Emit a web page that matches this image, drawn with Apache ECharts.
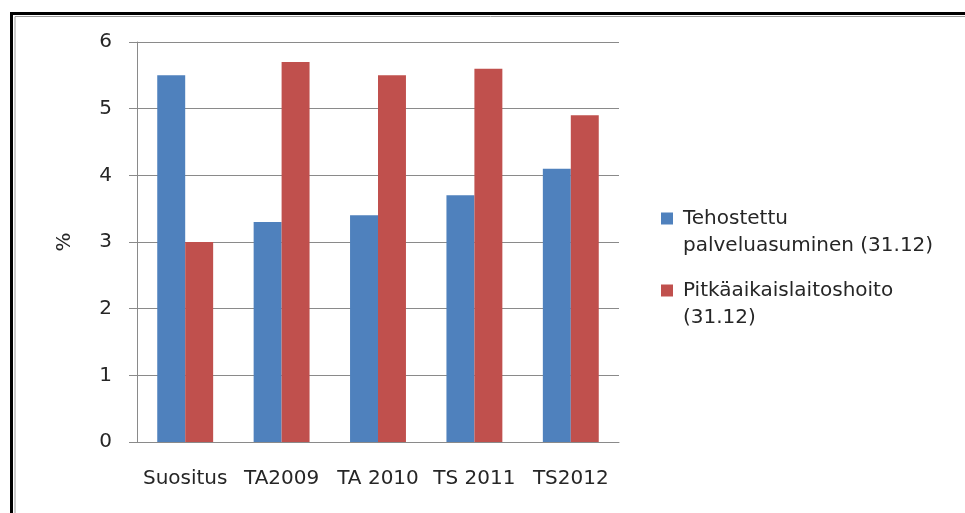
<!DOCTYPE html>
<html>
<head>
<meta charset="utf-8">
<style>
  html, body { margin: 0; padding: 0; background: #ffffff; }
  #main { width: 965px; height: 513px; }
</style>
</head>
<body>
<div id="main"></div>
<script src="https://cdn.jsdelivr.net/npm/echarts@6/dist/echarts.min.js"></script>
<script>
// data
var categories = ['Suositus', 'TA2009', 'TA 2010', 'TS 2011', 'TS2012'];
var tehostettu = [5.5, 3.3, 3.4, 3.7, 4.1];
var pitkaaikais = [3.0, 5.7, 5.5, 5.6, 4.9];
var seriesNames = ['Tehostettu\npalveluasuminen (31.12)', 'Pitkäaikaislaitoshoito\n(31.12)'];

var font = '"DejaVu Sans", sans-serif';
var fontSize = 20;
var textColor = '#262626';
var myChart = echarts.init(document.getElementById('main'));

// one legend per series so the icon sits next to the first text line
function legendFor(name, top) {
  return {
    data: [name],
    left: 661,
    top: top,
    padding: 0,
    orient: 'vertical',
    itemWidth: 12,
    itemHeight: 12,
    icon: 'rect',
    selectedMode: false,
    formatter: function (n) { return '\n' + n; },  // blank line keeps line 1 level with the icon
    textStyle: {
      fontFamily: font,
      fontSize: fontSize,
      color: textColor,
      lineHeight: 27,
      padding: [0, 0, 0, 5]
    }
  };
}

var option = {
  animation: false,
  color: ['#4F81BD', '#C0504D'],
  grid: { left: 137, right: 346, top: 42, bottom: 71 },
  legend: [legendFor(seriesNames[0], 178), legendFor(seriesNames[1], 250)],
  xAxis: {
    type: 'category',
    data: categories,
    axisTick: { show: false },
    axisLine: { lineStyle: { color: '#8a8a8a', width: 1 } },
    axisLabel: { interval: 0, margin: 27, fontFamily: font, fontSize: fontSize, color: textColor }
  },
  yAxis: {
    type: 'value',
    min: 0,
    max: 6,
    interval: 1,
    name: '%',
    nameLocation: 'middle',
    nameGap: 62,
    nameRotate: 90,
    nameTextStyle: { fontFamily: font, fontSize: fontSize, color: textColor },
    axisLine: { show: true, lineStyle: { color: '#8a8a8a', width: 1 } },
    axisTick: { show: true, length: 8, lineStyle: { color: '#8a8a8a' } },
    splitLine: { lineStyle: { color: '#8a8a8a', width: 1 } },
    axisLabel: { margin: 25, fontFamily: font, fontSize: fontSize, color: textColor }
  },
  series: [
    {
      name: seriesNames[0],
      type: 'bar',
      data: tehostettu,
      barGap: '0%',
      barCategoryGap: '42%'
    },
    {
      name: seriesNames[1],
      type: 'bar',
      data: pitkaaikais
    }
  ],
  graphic: [
    // frame around the chart
    { type: 'rect', shape: { x: 11.5, y: 13.5, width: 1000, height: 1000 },
      style: { fill: 'none', stroke: '#000000', lineWidth: 3 }, silent: true },
    { type: 'rect', shape: { x: 15, y: 16.5, width: 1000, height: 1000 },
      style: { fill: 'none', stroke: '#9a9a9a', lineWidth: 1 }, silent: true }
  ]
};

myChart.setOption(option);
</script>
</body>
</html>
